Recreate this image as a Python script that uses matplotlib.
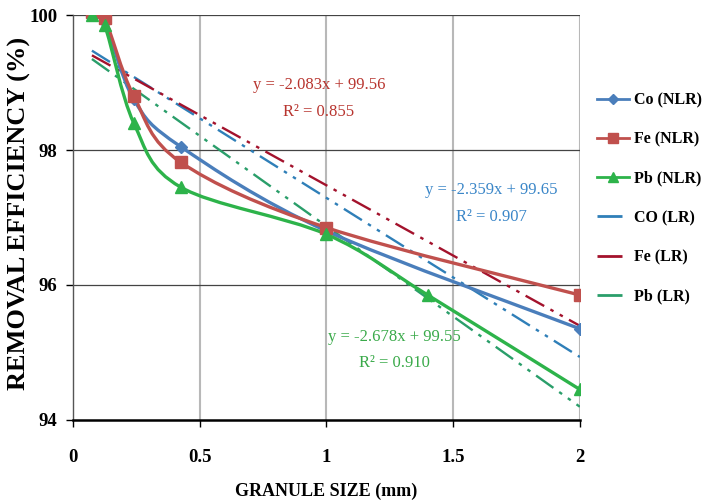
import numpy as np
import matplotlib
matplotlib.use('Agg')
import matplotlib.pyplot as plt
from matplotlib.path import Path
from matplotlib.patches import PathPatch
from matplotlib.lines import Line2D

plt.rcParams['font.family'] = ['Liberation Serif', 'DejaVu Serif']

# Data
size_mm = [0.075, 0.125, 0.24, 0.425, 1.0, 2.0]
co_nlr = [100.0, 99.9, 98.75, 98.05, 96.8, 95.35]
fe_nlr = [100.05, 99.95, 98.8, 97.82, 96.85, 95.85]
pb_size = [0.075, 0.125, 0.24, 0.425, 1.0, 1.4, 2.0]
pb_nlr = [100.0, 99.85, 98.4, 97.45, 96.75, 95.85, 94.45]

# linear fits shown on the chart (slope, intercept, r2)
co_fit = (-2.359, 99.65, 0.907)
fe_fit = (-2.083, 99.56, 0.855)
pb_fit = (-2.678, 99.55, 0.910)
fit_range = [0.075, 2.0]

c_co, c_fe, c_pb = '#4a7ebb', '#c0504d', '#2db34a'
c_co_lr, c_fe_lr, c_pb_lr = '#2f7fb8', '#a3122c', '#2a9e6a'
dashdotdot = (0, (9, 3, 1.5, 3, 1.5, 3))


def smooth_path(x, y):
    # excel-style smoothed line as a bezier path
    pts = np.column_stack([x, y])
    n = len(pts)
    verts = [pts[0]]
    codes = [Path.MOVETO]
    for i in range(n - 1):
        p0 = pts[max(i - 1, 0)]
        p1 = pts[i]
        p2 = pts[i + 1]
        p3 = pts[min(i + 2, n - 1)]
        c1 = p1 + (p2 - p0) / 6.0
        c2 = p2 - (p3 - p1) / 6.0
        verts += [c1, c2, p2]
        codes += [Path.CURVE4] * 3
    return Path(verts, codes)


fig = plt.figure(figsize=(7.15, 5.04), dpi=100)
ax = fig.add_axes([0.102, 0.167, 0.709, 0.803])

# regression lines
for (m, b, r2), col in [(co_fit, c_co_lr), (fe_fit, c_fe_lr), (pb_fit, c_pb_lr)]:
    xs = np.array(fit_range)
    ax.plot(xs, m * xs + b, color=col, lw=1.7, linestyle=dashdotdot, zorder=3)

# measured curves
for xs, ys, col, mk, ms in [(size_mm, co_nlr, c_co, 'D', 6.5),
                            (size_mm, fe_nlr, c_fe, 's', 8.5),
                            (pb_size, pb_nlr, c_pb, '^', 8.5)]:
    ax.add_patch(PathPatch(smooth_path(xs, ys), facecolor='none', edgecolor=col,
                           lw=2.4, zorder=4))
    ax.plot(xs, ys, linestyle='none', marker=mk, markersize=ms, color=col, zorder=5)

tkw = dict(ha='center', va='center', fontsize=12)
ax.text(0.97, 98.96, 'y = -2.083x + 99.56', color='#b8352f', **tkw)
ax.text(0.97, 98.56, 'R² = 0.855', color='#b8352f', **tkw)
ax.text(1.65, 97.41, 'y = -2.359x + 99.65', color='#3a86c8', **tkw)
ax.text(1.65, 97.01, 'R² = 0.907', color='#3a86c8', **tkw)
ax.text(1.27, 95.23, 'y = -2.678x + 99.55', color='#3aaa4a', **tkw)
ax.text(1.27, 94.84, 'R² = 0.910', color='#3aaa4a', **tkw)

ax.set_xlim(0, 2)
ax.set_ylim(94, 100)
ax.set_xticks([0, 0.5, 1, 1.5, 2])
ax.set_xticklabels(['0', '0.5', '1', '1.5', '2'])
ax.set_yticks([94, 96, 98, 100])
for v in [0.5, 1, 1.5, 2]:
    ax.axvline(v, color='#b8b8b8', lw=1.5, zorder=1)
for v in [96, 98, 100]:
    ax.axhline(v, color='#444444', lw=0.9, zorder=1)
for s in ['top', 'right']:
    ax.spines[s].set_visible(False)
ax.spines['left'].set_color('#555555')
ax.spines['left'].set_linewidth(1.0)
ax.spines['bottom'].set_linewidth(1.8)
ax.tick_params(axis='both', labelsize=13.5, length=5, width=1)
ax.tick_params(axis='x', pad=16)
ax.tick_params(axis='y', pad=6)
for lab in ax.get_xticklabels() + ax.get_yticklabels():
    lab.set_fontweight('bold')

ax.set_xlabel('GRANULE SIZE (mm)', fontsize=13, fontweight='bold', labelpad=12)
ax.set_ylabel('REMOVAL EFFICIENCY (%)', fontsize=19, fontweight='bold')
ax.yaxis.set_label_coords(-0.082, 0.51)

handles = [
    Line2D([], [], color=c_co, lw=2, marker='D', markersize=5),
    Line2D([], [], color=c_fe, lw=2, marker='s', markersize=7),
    Line2D([], [], color=c_pb, lw=2, marker='^', markersize=7),
    Line2D([], [], color=c_co_lr, lw=2, linestyle=dashdotdot),
    Line2D([], [], color=c_fe_lr, lw=2, linestyle=dashdotdot),
    Line2D([], [], color=c_pb_lr, lw=2, linestyle=dashdotdot),
]
labels = ['Co (NLR)', 'Fe (NLR)', 'Pb (NLR)', 'CO (LR)', 'Fe (LR)', 'Pb (LR)']
fig.legend(handles, labels, loc='upper left', bbox_to_anchor=(0.815, 0.845),
           frameon=False, handlelength=2.0, labelspacing=1.45,
           handletextpad=0.3, prop={'size': 11.5, 'weight': 'bold'})

fig.savefig('out.png', dpi=100)
